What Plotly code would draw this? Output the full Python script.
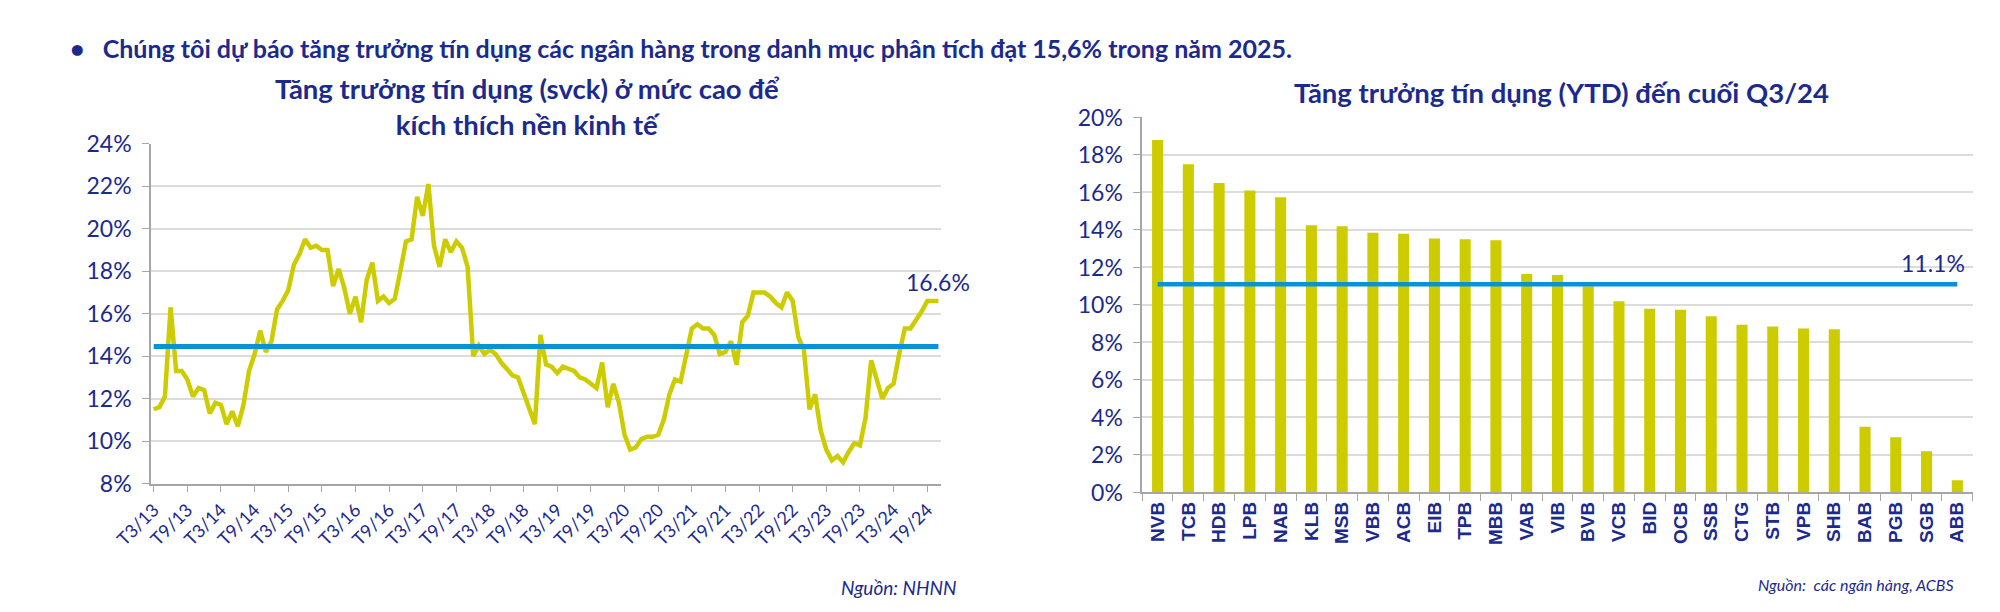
import plotly.graph_objects as go

# --- left chart: credit growth yoy (svck), monthly T3/13 .. T11/24 ---
credit_yoy = [
    11.5, 11.6, 12.1, 16.3, 13.3, 13.3, 12.9, 12.1, 12.5, 12.4,
    11.3, 11.8, 11.7, 10.8, 11.4, 10.7, 11.7, 13.3, 14.1, 15.2,
    14.2, 14.7, 16.2, 16.6, 17.1, 18.3, 18.8, 19.5, 19.1, 19.2,
    19.0, 19.0, 17.3, 18.1, 17.2, 16.0, 16.8, 15.6, 17.6, 18.4,
    16.6, 16.8, 16.5, 16.7, 18.0, 19.4, 19.5, 21.5, 20.6, 22.1,
    19.2, 18.2, 19.5, 18.9, 19.4, 19.1, 18.2, 14.0, 14.5, 14.1,
    14.3, 14.1, 13.7, 13.4, 13.1, 13.0, 12.3, 11.6, 10.8, 15.0,
    13.6, 13.5, 13.2, 13.5, 13.4, 13.3, 13.0, 12.9, 12.7, 12.5,
    13.7, 11.6, 12.7, 11.8, 10.3, 9.6, 9.7, 10.1, 10.2, 10.2,
    10.3, 11.0, 12.2, 12.9, 12.8, 14.1, 15.3, 15.5, 15.3, 15.3,
    15.0, 14.1, 14.2, 14.7, 13.6, 15.6, 15.9, 17.0, 17.0, 17.0,
    16.8, 16.5, 16.3, 17.0, 16.6, 14.9, 14.3, 11.5, 12.2, 10.5,
    9.6, 9.1, 9.3, 9.0, 9.5, 9.9, 9.8, 11.1, 13.8, 12.9,
    12.0, 12.5, 12.7, 14.1, 15.3, 15.3, 15.7, 16.1, 16.6, 16.6,
    16.6,
]
credit_avg = 14.45
month_idx = list(range(len(credit_yoy)))
tick_labels = [
    "T3/13", "T9/13", "T3/14", "T9/14", "T3/15", "T9/15", "T3/16", "T9/16",
    "T3/17", "T9/17", "T3/18", "T9/18", "T3/19", "T9/19", "T3/20", "T9/20",
    "T3/21", "T9/21", "T3/22", "T9/22", "T3/23", "T9/23", "T3/24", "T9/24",
]
tick_pos = [6 * i for i in range(len(tick_labels))]

# --- right chart: YTD credit growth by bank, end of Q3/24 ---
banks = [
    "NVB", "TCB", "HDB", "LPB", "NAB", "KLB", "MSB", "VBB", "ACB", "EIB",
    "TPB", "MBB", "VAB", "VIB", "BVB", "VCB", "BID", "OCB", "SSB", "CTG",
    "STB", "VPB", "SHB", "BAB", "PGB", "SGB", "ABB",
]
ytd_growth = [
    18.8, 17.5, 16.5, 16.1, 15.75, 14.25, 14.2, 13.85, 13.8, 13.55,
    13.5, 13.45, 11.65, 11.6, 11.0, 10.2, 9.8, 9.75, 9.4, 8.95,
    8.85, 8.75, 8.7, 3.5, 2.95, 2.2, 0.65,
]
sector_avg = 11.1

NAVY = "#1b2a8c"
YELLOW = "#cccc00"
BLUE = "#0a92d6"
GRID = "#dcdcdc"
AXIS = "#a6a6a6"
FONT = "Lato"

fig = go.Figure()

fig.add_trace(go.Scatter(
    x=month_idx, y=credit_yoy, mode="lines",
    line=dict(color=YELLOW, width=4.5), xaxis="x", yaxis="y",
))
fig.add_trace(go.Scatter(
    x=[month_idx[0], month_idx[-1]], y=[credit_avg, credit_avg], mode="lines",
    line=dict(color=BLUE, width=5), xaxis="x", yaxis="y",
))

fig.add_trace(go.Bar(
    x=banks, y=ytd_growth, marker=dict(color=YELLOW, line=dict(width=0)),
    xaxis="x2", yaxis="y2",
))
fig.add_trace(go.Scatter(
    x=banks, y=[sector_avg] * len(banks), mode="lines",
    line=dict(color=BLUE, width=4.5), xaxis="x2", yaxis="y2",
))

tick_font = dict(family=FONT, size=23, color=NAVY)

fig.update_layout(
    width=2000, height=612,
    margin=dict(l=0, r=0, t=0, b=0),
    paper_bgcolor="white", plot_bgcolor="white",
    showlegend=False,
    bargap=0.64,
    xaxis=dict(
        domain=[0.053, 0.456], range=[-0.5, len(credit_yoy) - 0.5],
        anchor="y",
        tickvals=tick_pos, ticktext=tick_labels, tickangle=-45,
        tickfont=dict(family=FONT, size=18, color=NAVY),
        showgrid=False, showline=True, linecolor=AXIS, linewidth=1.5,
        ticks="outside", ticklen=7, tickcolor=AXIS, zeroline=False,
    ),
    yaxis=dict(
        domain=[0.2113, 0.7933], range=[8, 24], dtick=2, ticksuffix="%",
        anchor="x",
        tickfont=tick_font, gridcolor=GRID, gridwidth=1.5,
        showline=True, linecolor=AXIS, linewidth=1.5,
        ticks="outside", ticklen=7, tickcolor=AXIS, zeroline=False,
        ticklabelstandoff=6,
    ),
    xaxis2=dict(
        domain=[0.5585, 0.982], tickangle=-90, anchor="y2",
        tickfont=dict(family="Liberation Sans", size=19, color=NAVY, weight="bold"),
        showgrid=False, showline=True, linecolor=AXIS, linewidth=1.5,
        ticks="outside", ticklen=7, tickcolor=AXIS, tickson="boundaries",
    ),
    yaxis2=dict(
        domain=[0.1961, 0.8382], range=[0, 20], dtick=2, ticksuffix="%",
        anchor="x2",
        tickfont=tick_font, gridcolor=GRID, gridwidth=1.5,
        showline=True, linecolor=AXIS, linewidth=1.5,
        ticks="outside", ticklen=7, tickcolor=AXIS, zeroline=False,
        ticklabelstandoff=6,
    ),
)

fig.add_annotation(
    x=0.0105, y=1 - 26 / 612, xref="paper", yref="paper",
    xanchor="left", yanchor="middle", showarrow=False,
    text="<b>•   Chúng tôi dự báo tăng trưởng tín dụng các ngân hàng trong danh mục phân tích đạt 15,6% trong năm 2025.</b>",
    font=dict(family=FONT, size=25, color=NAVY),
)
fig.add_annotation(
    x=0.245, y=1 - 88 / 612, xref="paper", yref="paper",
    xanchor="center", yanchor="middle", showarrow=False,
    text="<b>Tăng trưởng tín dụng (svck) ở mức cao để<br>kích thích nền kinh tế</b>",
    font=dict(family=FONT, size=27.5, color=NAVY),
)
fig.add_annotation(
    x=0.7725, y=1 - 73 / 612, xref="paper", yref="paper",
    xanchor="center", yanchor="middle", showarrow=False,
    text="<b>Tăng trưởng tín dụng (YTD) đến cuối Q3/24</b>",
    font=dict(family=FONT, size=27.5, color=NAVY),
)
fig.add_annotation(
    x=month_idx[-1], y=credit_yoy[-1], xref="x", yref="y",
    xanchor="center", yanchor="bottom", yshift=3, showarrow=False,
    text=f"{credit_yoy[-1]:.1f}%",
    font=dict(family=FONT, size=23, color=NAVY),
)
fig.add_annotation(
    x=banks[-1], y=sector_avg, xref="x2", yref="y2",
    xanchor="right", yanchor="bottom", xshift=10, yshift=5, showarrow=False,
    text=f"{sector_avg:.1f}%",
    font=dict(family=FONT, size=23, color=NAVY),
)
fig.add_annotation(
    x=0.465, y=1 - 592 / 612, xref="paper", yref="paper",
    xanchor="right", yanchor="middle", showarrow=False,
    text="<i>Nguồn: NHNN</i>",
    font=dict(family=FONT, size=19, color=NAVY),
)
fig.add_annotation(
    x=0.9735, y=1 - 588 / 612, xref="paper", yref="paper",
    xanchor="right", yanchor="middle", showarrow=False,
    text="<i>Nguồn:  các ngân hàng, ACBS</i>",
    font=dict(family=FONT, size=16, color=NAVY),
)

fig.write_html("out.html")
